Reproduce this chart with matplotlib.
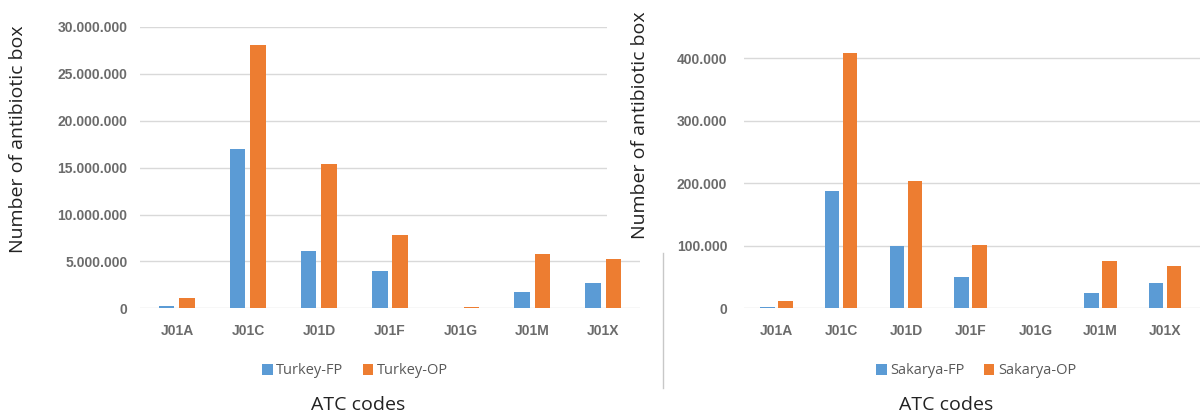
import matplotlib
matplotlib.use("Agg")
import matplotlib.pyplot as plt
import matplotlib.patches as patches
from matplotlib.lines import Line2D
from matplotlib.ticker import FuncFormatter
import numpy as np

# ATC groups and antibiotic box counts
atc_codes = ["J01A", "J01C", "J01D", "J01F", "J01G", "J01M", "J01X"]
turkey_fp = [280000, 17000000, 6100000, 3980000, 0, 1700000, 2700000]
turkey_op = [1130000, 28100000, 15350000, 7770000, 150000, 5760000, 5220000]
sakarya_fp = [2000, 188000, 100000, 50600, 0, 24000, 40500]
sakarya_op = [12200, 409000, 204000, 101000, 0, 75200, 67200]

BLUE = '#5b9bd5'
ORANGE = '#ed7d31'
GRID = '#d9d9d9'
TICK = '#6b6b6b'

W, H = 1201, 418
fig = plt.figure(figsize=(W / 100, H / 100), dpi=100)


def px_box(x0, x1, y_top, y_bottom):
    # pixel box (top-left origin) -> figure fraction rect
    return [x0 / W, (H - y_bottom) / H, (x1 - x0) / W, (y_bottom - y_top) / H]


def dotted(v, pos):
    return f"{int(round(v)):,}".replace(",", ".")


def draw_panel(ax, fp, op, labels, yticks, ylim, xlim, width, off, ypad):
    x = np.arange(len(atc_codes))
    ax.bar(x - off, fp, width, color=BLUE, label=labels[0], zorder=3)
    ax.bar(x + off, op, width, color=ORANGE, label=labels[1], zorder=3)
    ax.set_xlim(*xlim)
    ax.set_ylim(*ylim)
    ax.set_yticks(yticks)
    ax.yaxis.set_major_formatter(FuncFormatter(dotted))
    ax.set_xticks(x)
    ax.set_xticklabels(atc_codes)
    ax.grid(axis='y', color=GRID, linewidth=1.0, zorder=0)
    ax.set_axisbelow(True)
    for s in ax.spines.values():
        s.set_visible(False)
    ax.tick_params(axis='both', length=0)
    ax.tick_params(axis='x', pad=11)
    ax.tick_params(axis='y', pad=ypad)
    for t in ax.get_xticklabels() + ax.get_yticklabels():
        t.set_fontfamily('Liberation Sans')
        t.set_fontweight('bold')
        t.set_fontsize(10)
        t.set_color(TICK)


# left panel: Turkey
ax1 = fig.add_axes(px_box(140, 640, 27, 308.3), zorder=0)
draw_panel(ax1, turkey_fp, turkey_op, ["Turkey-FP", "Turkey-OP"],
           np.arange(0, 30000001, 5000000), (0, 30000000), (-0.52, 6.52),
           0.218, 0.144, 9)

# white background of the right panel lying over the left one
fig.add_artist(patches.Rectangle((607 / W, (H - 253) / H), 1 - 607 / W, 253 / H,
                                 transform=fig.transFigure, facecolor='white',
                                 edgecolor='none', zorder=0.5))

# right panel: Sakarya
ax2 = fig.add_axes(px_box(744, 1200, 0, 308.3), zorder=1)
draw_panel(ax2, sakarya_fp, sakarya_op, ["Sakarya-FP", "Sakarya-OP"],
           np.arange(0, 400001, 100000), (0, 308.3 / 0.625 * 1000), (-0.5, 6.54),
           0.224, 0.139, 12)

# separator line between the two charts
fig.add_artist(Line2D([663 / W, 663 / W], [(H - 388) / H, (H - 253) / H],
                      transform=fig.transFigure, color='#c8c8c8', linewidth=1.0))

label_font = dict(family='Open Sans', size=14, color='#222222')
fig.text(18 / W, (H - 139) / H, "Number of antibiotic box", rotation=90,
         ha='center', va='center', **label_font)
fig.text(640 / W, (H - 125) / H, "Number of antibiotic box", rotation=90,
         ha='center', va='center', zorder=2, **label_font)
fig.text(358 / W, (H - 405) / H, "ATC codes", ha='center', va='center', **label_font)
fig.text(946 / W, (H - 405) / H, "ATC codes", ha='center', va='center', **label_font)

leg_kw = dict(ncol=2, frameon=False, loc='center', handlelength=0.75,
              handleheight=0.75, handletextpad=0.25, columnspacing=1.3,
              prop={'family': 'Open Sans', 'size': 10.5})
leg1 = ax1.legend(bbox_to_anchor=(355 / W, (H - 371) / H),
                  bbox_transform=fig.transFigure, **leg_kw)
leg2 = ax2.legend(bbox_to_anchor=(976 / W, (H - 371) / H),
                  bbox_transform=fig.transFigure, **leg_kw)
for leg in (leg1, leg2):
    for t in leg.get_texts():
        t.set_color('#595959')

fig.savefig("out.png", dpi=100, facecolor='white')
